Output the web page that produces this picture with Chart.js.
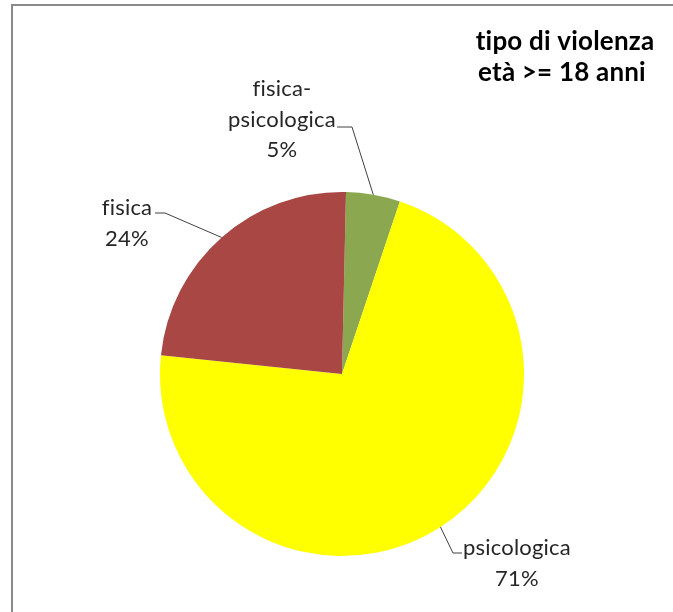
<!DOCTYPE html>
<html>
<head>
<meta charset="utf-8">
<script src="https://cdn.jsdelivr.net/npm/chart.js@4.4.0/dist/chart.umd.min.js"></script>
<style>
  body { margin: 0; background: #fff; }
  #wrap { position: relative; width: 673px; height: 612px; }
  #frame { position: absolute; left: 11px; top: 4px; right: 0; bottom: 0;
           border-left: 2px solid #8a8a8a; border-top: 2px solid #8a8a8a; }
  canvas { position: absolute; left: 0; top: 0; }
</style>
</head>
<body>
<div id="wrap">
  <div id="frame"></div>
  <canvas id="pie" width="673" height="612"></canvas>
</div>
<script>
// data (slice order clockwise from 12 o'clock)
const labels = [['fisica-', 'psicologica'], ['psicologica'], ['fisica']];
const values = [4.8, 71.5, 23.7];
const pctText = ['5%', '71%', '24%'];
const colors = ['#8BA74F', '#FFFF00', '#A84744'];
const titleLines = ['tipo di violenza', 'età >= 18 anni'];

const FONT = 'Lato, "Liberation Sans", sans-serif';

// label boxes: where the text sits relative to the leader line
const labelLayout = [
  { elbow: [352, 127], end: [337, 127], textX: 282, textY: 89 },
  { elbow: [453, 553], end: [462, 553], textX: 517, textY: 548 },
  { elbow: [165, 213], end: [155, 213], textX: 127, textY: 208 }
];

const pieLabels = {
  id: 'pieLabels',
  afterDatasetsDraw(chart) {
    const ctx = chart.ctx;
    const meta = chart.getDatasetMeta(0);
    ctx.save();
    ctx.letterSpacing = '0.2px';
    meta.data.forEach((arc, i) => {
      const mid = (arc.startAngle + arc.endAngle) / 2;
      const ex = arc.x + Math.cos(mid) * arc.outerRadius;
      const ey = arc.y + Math.sin(mid) * arc.outerRadius;
      const lay = labelLayout[i];
      ctx.strokeStyle = '#404040';
      ctx.lineWidth = 1;
      ctx.beginPath();
      ctx.moveTo(ex, ey);
      ctx.lineTo(lay.elbow[0], lay.elbow[1]);
      ctx.lineTo(lay.end[0], lay.end[1]);
      ctx.stroke();

      ctx.fillStyle = '#262626';
      ctx.font = '22px ' + FONT;
      ctx.textAlign = 'center';
      ctx.textBaseline = 'middle';
      const lines = labels[i].concat([pctText[i]]);
      let y = lay.textY;
      lines.forEach(t => {
        ctx.fillText(t, lay.textX, y);
        y += 30.5;
      });
    });

    ctx.font = 'bold 26px ' + FONT;
    ctx.textAlign = 'center';
    ctx.fillStyle = '#000';
    ctx.fillText(titleLines[0], 565, 42);
    ctx.fillText(titleLines[1], 562, 73);
    ctx.restore();
  }
};

new Chart(document.getElementById('pie'), {
  type: 'pie',
  data: {
    labels: labels.map(l => l.join('')),
    datasets: [{
      data: values,
      backgroundColor: colors,
      borderWidth: 0
    }]
  },
  options: {
    responsive: false,
    animation: false,
    rotation: 1.26,
    layout: { padding: { left: 160, right: 149, top: 192, bottom: 56 } },
    plugins: {
      legend: { display: false },
      tooltip: { enabled: false }
    }
  },
  plugins: [pieLabels]
});
</script>
</body>
</html>
